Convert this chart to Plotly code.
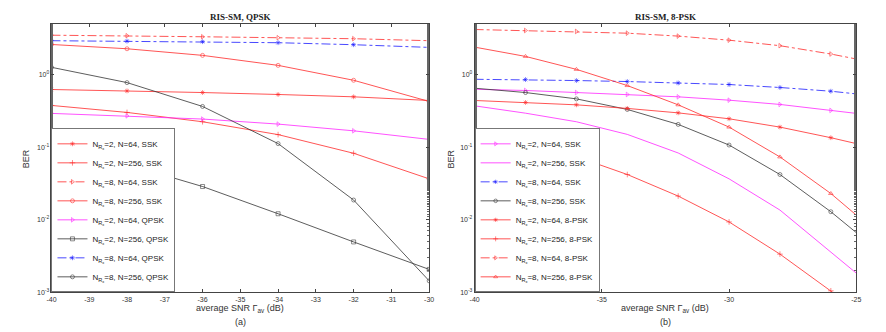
import plotly.graph_objects as go

# (a) RIS-SM, QPSK
snr_a = [-40, -38, -36, -34, -32, -30]
a_2_64_ssk = [0.623, 0.596, 0.566, 0.532, 0.494, 0.440]
a_2_256_ssk = [0.376, 0.301, 0.224, 0.149, 0.0824, 0.0366]
a_8_64_ssk = [3.49, 3.43, 3.32, 3.22, 3.12, 2.93]
a_8_256_ssk = [2.60, 2.27, 1.84, 1.34, 0.835, 0.426]
a_2_64_qpsk = [0.292, 0.270, 0.244, 0.208, 0.168, 0.128]
a_2_256_qpsk = [0.0955, 0.0582, 0.0287, 0.0121, 0.00495, 0.00207]
a_8_64_qpsk = [2.93, 2.89, 2.84, 2.75, 2.58, 2.37]
a_8_256_qpsk = [1.26, 0.776, 0.364, 0.112, 0.0187, 0.00144]

# (b) RIS-SM, 8-PSK
snr_b = [-40, -38, -36, -34, -32, -30, -28, -26, -25]
b_2_64_ssk = [0.628, 0.604, 0.566, 0.532, 0.494, 0.444, 0.388, 0.321, 0.292]
b_2_256_ssk = [0.371, 0.294, 0.224, 0.150, 0.0832, 0.0366, 0.0136, 0.00361, 0.00184]
b_8_64_ssk = [0.862, 0.854, 0.828, 0.802, 0.767, 0.730, 0.664, 0.590, 0.542]
b_8_256_ssk = [0.649, 0.566, 0.463, 0.331, 0.206, 0.107, 0.0420, 0.0129, 0.00665]
b_2_64_8psk = [0.440, 0.413, 0.383, 0.342, 0.297, 0.246, 0.189, 0.135, 0.112]
b_2_256_8psk = [0.176, 0.120, 0.0741, 0.0420, 0.0212, 0.00933, 0.00336, 0.00105, 0.00058]
b_8_64_8psk = [4.18, 4.05, 3.93, 3.72, 3.39, 2.98, 2.50, 1.92, 1.64]
b_8_256_8psk = [2.39, 1.78, 1.18, 0.706, 0.383, 0.189, 0.0734, 0.0230, 0.0116]

ber_ticks = [1e-3, 1e-2, 1e-1, 1]
ber_labels = ["10<sup>-3</sup>", "10<sup>-2</sup>", "10<sup>-1</sup>", "10<sup>0</sup>"]
xticks_a = [-40, -39, -38, -37, -36, -35, -34, -33, -32, -31, -30]
xticks_b = [-40, -35, -30, -25]

RED, BLUE, MAG, BLK = "#ff2a2a", "#1a1aff", "#ff26ff", "#333333"


def nrx(n):
    return "N<sub>R<sub>x</sub></sub>=" + str(n)


fig = go.Figure()


def add(x, y, name, color, symbol, dash, xa, ya, legend, last_marker=True):
    sizes = [4] * len(x)
    if not last_marker:
        sizes[-1] = 0
    fig.add_trace(go.Scatter(
        x=x, y=y, name=name, mode="lines+markers" if symbol else "lines",
        line=dict(color=color, width=0.8, dash=dash),
        marker=dict(symbol=symbol or "circle", size=sizes, color=color,
                    line=dict(color=color, width=0.8)),
        xaxis=xa, yaxis=ya, legend=legend))


add(snr_a, a_2_64_ssk, nrx(2) + ", N=64, SSK", RED, "asterisk-open", "solid", "x", "y", "legend")
add(snr_a, a_2_256_ssk, nrx(2) + ", N=256, SSK", RED, "cross-thin-open", "solid", "x", "y", "legend")
add(snr_a, a_8_64_ssk, nrx(8) + ", N=64, SSK", RED, "triangle-right-open", "dashdot", "x", "y", "legend")
add(snr_a, a_8_256_ssk, nrx(8) + ", N=256, SSK", RED, "circle-open", "solid", "x", "y", "legend")
add(snr_a, a_2_64_qpsk, nrx(2) + ", N=64, QPSK", MAG, "triangle-right-open", "solid", "x", "y", "legend")
add(snr_a, a_2_256_qpsk, nrx(2) + ", N=256, QPSK", BLK, "square-open", "solid", "x", "y", "legend")
add(snr_a, a_8_64_qpsk, nrx(8) + ", N=64, QPSK", BLUE, "asterisk-open", "dashdot", "x", "y", "legend")
add(snr_a, a_8_256_qpsk, nrx(8) + ", N=256, QPSK", BLK, "circle-open", "solid", "x", "y", "legend")

add(snr_b, b_2_64_ssk, nrx(2) + ", N=64, SSK", MAG, "triangle-right-open", "solid", "x2", "y2", "legend2", False)
add(snr_b, b_2_256_ssk, nrx(2) + ", N=256, SSK", MAG, None, "solid", "x2", "y2", "legend2", False)
add(snr_b, b_8_64_ssk, nrx(8) + ", N=64, SSK", BLUE, "asterisk-open", "dashdot", "x2", "y2", "legend2", False)
add(snr_b, b_8_256_ssk, nrx(8) + ", N=256, SSK", BLK, "circle-open", "solid", "x2", "y2", "legend2", False)
add(snr_b, b_2_64_8psk, nrx(2) + ", N=64, 8-PSK", RED, "asterisk-open", "solid", "x2", "y2", "legend2", False)
add(snr_b, b_2_256_8psk, nrx(2) + ", N=256, 8-PSK", RED, "cross-thin-open", "solid", "x2", "y2", "legend2", False)
add(snr_b, b_8_64_8psk, nrx(8) + ", N=64, 8-PSK", RED, "triangle-right-open", "dashdot", "x2", "y2", "legend2", False)
add(snr_b, b_8_256_8psk, nrx(8) + ", N=256, 8-PSK", RED, "triangle-up-open", "solid", "x2", "y2", "legend2", False)

tickfont = dict(family="Liberation Sans", size=7, color="#333")
common_x = dict(showgrid=False, zeroline=False, showline=True, linecolor="#444", linewidth=0.8,
                mirror="allticks", ticks="inside", ticklen=3, tickcolor="#444", tickfont=tickfont)
common_y = dict(type="log", range=[-3, 0.7], showgrid=False, zeroline=False, showline=True,
                linecolor="#444", linewidth=0.8, mirror="allticks", ticks="inside", ticklen=3,
                tickcolor="#444", tickfont=tickfont, tickvals=ber_ticks, ticktext=ber_labels,
                minor=dict(ticks="inside", ticklen=2, tickcolor="#666", showgrid=False))

ydom = [1 - 295 / 332, 1 - 24 / 332]
fig.update_layout(
    xaxis=dict(common_x, domain=[47 / 886, 429 / 886], range=[-40, -30], anchor="y",
               tickvals=xticks_a, ticktext=[str(v) for v in xticks_a]),
    yaxis=dict(common_y, domain=ydom, anchor="x"),
    xaxis2=dict(common_x, domain=[475 / 886, 861 / 886], range=[-40, -25], anchor="y2",
                tickvals=xticks_b, ticktext=[str(v) for v in xticks_b]),
    yaxis2=dict(common_y, domain=ydom, anchor="x2"),
)

legend_style = dict(font=dict(family="Liberation Sans", size=8, color="#222"),
                    bgcolor="white", bordercolor="#777", borderwidth=1,
                    xanchor="left", yanchor="bottom", tracegroupgap=0, itemwidth=30)
fig.update_layout(
    legend=dict(legend_style, x=47 / 886, y=ydom[0]),
    legend2=dict(legend_style, x=475 / 886, y=ydom[0]),
)

serif = dict(family="Liberation Serif", size=9, color="#222")
sans = dict(family="Liberation Sans", size=9, color="#333")
ann = [
    dict(text="<b>RIS-SM, QPSK</b>", x=238 / 886, y=1 - 17 / 332, font=serif),
    dict(text="<b>RIS-SM, 8-PSK</b>", x=668 / 886, y=1 - 17 / 332, font=serif),
    dict(text="average SNR \u0393<sub>av</sub> (dB)", x=238 / 886, y=1 - 311 / 332, font=sans),
    dict(text="average SNR \u0393<sub>av</sub> (dB)", x=668 / 886, y=1 - 311 / 332, font=sans),
    dict(text="(a)", x=238 / 886, y=1 - 325 / 332, font=sans),
    dict(text="(b)", x=668 / 886, y=1 - 325 / 332, font=sans),
    dict(text="BER", x=21 / 886, y=1 - 160 / 332, font=sans, textangle=-90),
    dict(text="BER", x=451 / 886, y=1 - 160 / 332, font=sans, textangle=-90),
]
for a in ann:
    a.update(xref="paper", yref="paper", showarrow=False, xanchor="center", yanchor="middle")
fig.update_layout(
    annotations=ann,
    width=886, height=332, margin=dict(l=0, r=0, t=0, b=0),
    plot_bgcolor="white", paper_bgcolor="white",
)

fig.write_html("out.html", config={"displayModeBar": False},
               post_script="document.body.style.margin='0';")
